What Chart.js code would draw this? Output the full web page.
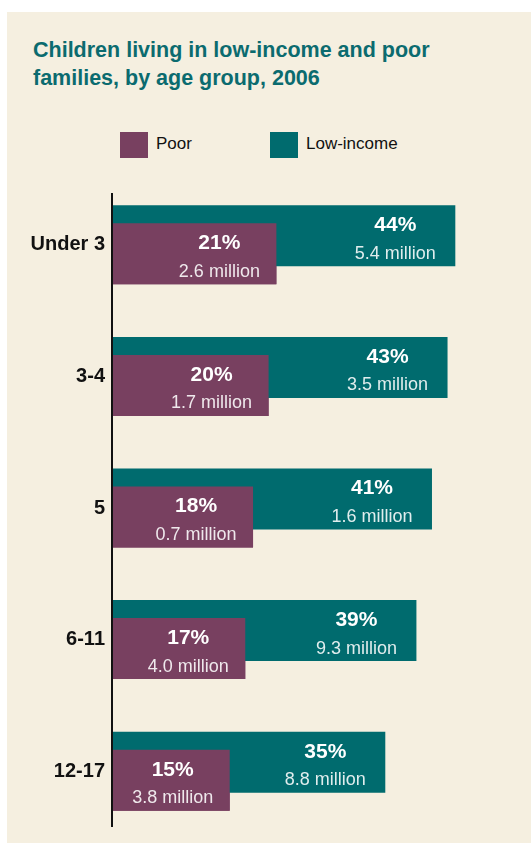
<!DOCTYPE html>
<html>
<head>
<meta charset="utf-8">
<script src="https://cdn.jsdelivr.net/npm/chart.js@4/dist/chart.umd.min.js"></script>
<style>
  html, body { margin: 0; padding: 0; background: #fff; }
  body { width: 531px; height: 845px; position: relative; overflow: hidden; font-family: "Liberation Sans", Arial, sans-serif; }
  #panel { position: absolute; left: 7px; top: 12px; width: 524px; height: 831px; background: #f5efe0; }
  #title { position: absolute; left: 33px; top: 36px; margin: 0; font-size: 21.5px; line-height: 28px; font-weight: bold; color: #0b6b6f; }
  .swatch { position: absolute; top: 132px; width: 28px; height: 26px; }
  .legtext { position: absolute; top: 134px; font-size: 17px; color: #111; }
  #chartBox { position: absolute; left: 7px; top: 159px; width: 524px; height: 698px; }
</style>
</head>
<body>
<div id="panel"></div>
<h1 id="title">Children living in low-income and poor<br>families, by age group, 2006</h1>
<div class="swatch" style="left:120px;background:#784060"></div>
<div class="legtext" style="left:156px">Poor</div>
<div class="swatch" style="left:270px;background:#006b6e"></div>
<div class="legtext" style="left:306px">Low-income</div>
<div id="chartBox"><canvas id="ageChart"></canvas></div>

<script>
// data
const ageGroups = ['Under 3', '3-4', '5', '6-11', '12-17'];
const lowIncomePct = [44, 43, 41, 39, 35];
const poorPct = [21, 20, 18, 17, 15];
const lowIncomeMillions = [5.4, 3.5, 1.6, 9.3, 8.8];
const poorMillions = [2.6, 1.7, 0.7, 4.0, 3.8];

const TEAL = '#006b6e';
const PLUM = '#784060';

// poor bars sit on top of the low-income bars, then the value labels
const overlayPlugin = {
    id: 'overlay',
    afterDatasetsDraw(chart) {
        const ctx = chart.ctx;
        const area = chart.chartArea;

        // redraw poor dataset so it overlaps low-income
        chart.getDatasetMeta(1).controller.draw();

        // axis line
        ctx.save();
        ctx.strokeStyle = '#111';
        ctx.lineWidth = 2;
        ctx.beginPath();
        ctx.moveTo(area.left - 1, area.top + 14);
        ctx.lineTo(area.left - 1, area.bottom - 10);
        ctx.stroke();

        ctx.textAlign = 'center';
        ctx.textBaseline = 'alphabetic';
        const sets = [
            { meta: chart.getDatasetMeta(0), pct: lowIncomePct, mil: lowIncomeMillions, off: 60 },
            { meta: chart.getDatasetMeta(1), pct: poorPct, mil: poorMillions, off: 57 }
        ];
        sets.forEach(s => {
            s.meta.data.forEach((bar, i) => {
                const top = bar.y - bar.height / 2;
                const cx = bar.x - s.off;
                ctx.fillStyle = '#ffffff';
                ctx.font = 'bold 21px "Liberation Sans", Arial, sans-serif';
                ctx.fillText(s.pct[i] + '%', cx, top + 26);
                ctx.fillStyle = 'rgba(255,255,255,0.88)';
                ctx.font = '18px "Liberation Sans", Arial, sans-serif';
                ctx.fillText(s.mil[i].toFixed(1) + ' million', cx, top + 53.5);
            });
        });
        ctx.restore();
    }
};

new Chart(document.getElementById('ageChart'), {
    type: 'bar',
    data: {
        labels: ageGroups,
        datasets: [
            {
                label: 'Low-income',
                data: lowIncomePct,
                backgroundColor: TEAL,
                borderWidth: 0
            },
            {
                label: 'Poor',
                data: poorPct,
                backgroundColor: PLUM,
                borderWidth: 0
            }
        ]
    },
    options: {
        indexAxis: 'y',
        responsive: true,
        maintainAspectRatio: false,
        animation: false,
        categoryPercentage: 0.2736,
        barPercentage: 3.39,
        layout: {
            padding: { left: 0, right: 29, top: 9, bottom: 6 }
        },
        scales: {
            x: {
                display: false,
                min: 0,
                max: 50
            },
            y: {
                grid: { display: false, drawTicks: false },
                border: { display: false },
                ticks: {
                    padding: 8,
                    color: '#111',
                    font: { family: '"Liberation Sans", Arial, sans-serif', size: 20, weight: 'bold' }
                },
                afterFit: function(scale) {
                    scale.width = 106;
                }
            }
        },
        plugins: {
            legend: { display: false },
            tooltip: { enabled: false }
        }
    },
    plugins: [overlayPlugin]
});
</script>
</body>
</html>
